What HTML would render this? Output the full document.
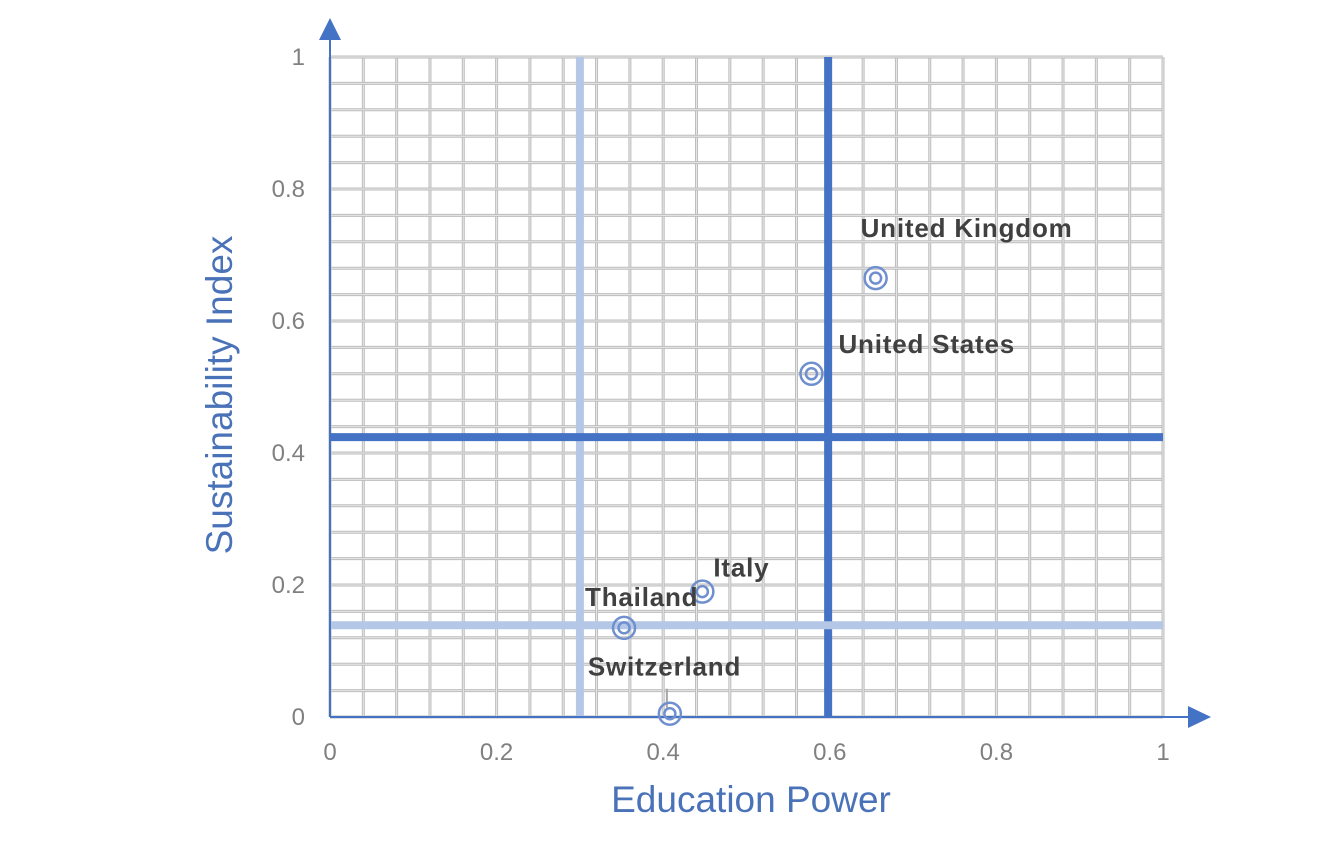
<!DOCTYPE html>
<html><head><meta charset="utf-8"><style>
body{margin:0;background:#fff;width:1323px;height:850px;overflow:hidden}
svg text{font-family:"Liberation Sans","Noto Sans CJK SC",sans-serif}
</style></head><body>
<svg id="chart" width="1323" height="850">
<g id="grid"></g><g id="quad"></g><g id="axes"></g><g id="pts"></g>
<text x="751" y="812" font-size="37" fill="#4a72b8" text-anchor="middle">Education Power</text>
<text transform="translate(232,395) rotate(-90)" font-size="37" fill="#4a72b8" text-anchor="middle">Sustainability Index</text>
</svg>
<script>
const names=["United Kingdom","United States","Italy","Thailand","Switzerland"];
const xVals=[0.655,0.578,0.447,0.353,0.408];
const yVals=[0.665,0.52,0.19,0.135,0.005];
const ticks=[0,0.2,0.4,0.6,0.8,1];
const tickLabels=["0","0.2","0.4","0.6","0.8","1"];
const quadX=[0.598,0.3];
const quadY=[0.424,0.139];
const X=v=>330+v*833, Y=v=>717-v*660;
const NS="http://www.w3.org/2000/svg";
function mk(p,t,a){const e=document.createElementNS(NS,t);for(const k in a)e.setAttribute(k,a[k]);p.appendChild(e);return e;}
const g=document.getElementById('grid');
for(let i=0;i<=25;i++){
 const x=X(i/25),y=Y(i/25);
 let l=mk(g,'line',{x1:x,x2:x,y1:Y(1),y2:Y(0),stroke:'#bdbdbd','stroke-width':3});
 
 mk(g,'line',{x1:x,x2:x,y1:Y(1),y2:Y(0),stroke:'#e8e8e8','stroke-width':1});
 l=mk(g,'line',{x1:X(0),x2:X(1),y1:y,y2:y,stroke:'#bdbdbd','stroke-width':3});
 
 mk(g,'line',{x1:X(0),x2:X(1),y1:y,y2:y,stroke:'#e8e8e8','stroke-width':1});
}
const q=document.getElementById('quad');
const cols=['#4472c4','#b4c7e7'];
quadX.forEach((v,i)=>{const l=mk(q,'line',{x1:X(v),x2:X(v),y1:Y(1),y2:Y(0),stroke:cols[i],'stroke-width':8});
 });
quadY.forEach((v,i)=>{const l=mk(q,'line',{x1:X(0),x2:X(1),y1:Y(v),y2:Y(v),stroke:cols[i],'stroke-width':8});
 });
const a=document.getElementById('axes');
let e=mk(a,'line',{x1:X(0),x2:X(0),y1:Y(0),y2:32,stroke:'#4472c4','stroke-width':2});

e=mk(a,'polygon',{points:'319,40 341,40 330,18',fill:'#4472c4'});

e=mk(a,'line',{x1:X(0),x2:1195,y1:Y(0),y2:Y(0),stroke:'#4472c4','stroke-width':2});

e=mk(a,'polygon',{points:'1188,706 1188,728 1211,717',fill:'#4472c4'});

ticks.forEach((t,i)=>{
 let tx=mk(a,'text',{x:X(t),y:760,'font-size':24,fill:'#808080','text-anchor':'middle'});tx.textContent=tickLabels[i];
 
 tx=mk(a,'text',{x:305,y:Y(t)+8,'font-size':24,fill:'#808080','text-anchor':'end'});tx.textContent=tickLabels[i];
 
});
const p=document.getElementById('pts');
const lo=[[-15,-41,'start'],[27,-21,'start'],[11,-15,'start'],[-39,-22,'start'],[-82,-38,'start']];
names.forEach((n,i)=>{
 const cx=X(xVals[i]),cy=Y(yVals[i]);
 if(i===4){const ld=mk(p,'line',{x1:cx-3,x2:cx-3,y1:cy-25,y2:cy-6,stroke:'#a6a6a6','stroke-width':2});
  }
 let c=mk(p,'circle',{cx:cx,cy:cy,r:11,fill:'none',stroke:'#6f8fcf','stroke-width':2.5});
 
 mk(p,'circle',{cx:cx,cy:cy,r:5.5,fill:'none',stroke:'#6f8fcf','stroke-width':2.5});
 const t=mk(p,'text',{x:cx+lo[i][0],y:cy+lo[i][1],'font-size':26,'font-weight':'bold',fill:'#404040','text-anchor':lo[i][2],'letter-spacing':'0.8'});
 t.textContent=n;
 
});
</script>
</body></html>
